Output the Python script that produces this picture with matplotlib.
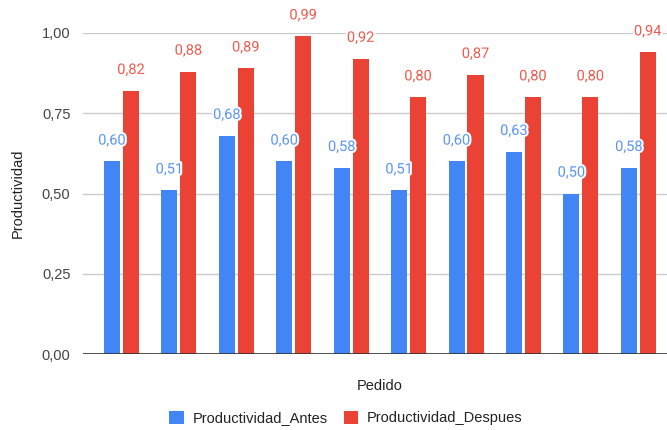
import numpy as np
import matplotlib
matplotlib.use("Agg")
import matplotlib.pyplot as plt
import matplotlib.patheffects as pe

plt.rcParams["font.family"] = ["Roboto", "DejaVu Sans"]

pedidos = list(range(1, 11))
antes = [0.60, 0.51, 0.68, 0.60, 0.58, 0.51, 0.60, 0.63, 0.50, 0.58]
despues = [0.82, 0.88, 0.89, 0.99, 0.92, 0.80, 0.87, 0.80, 0.80, 0.94]
yticks = [0.0, 0.25, 0.5, 0.75, 1.0]

BLUE = "#4285F4"
RED = "#EA4335"
AXFONT = ["Liberation Sans", "DejaVu Sans"]

fig = plt.figure(figsize=(6.67, 4.30), dpi=100)
ax = fig.add_axes([83 / 667, 76 / 430, 1 - 83 / 667, 321 / 430])

x = np.arange(len(pedidos))
w = 0.28
off = 0.165
b1 = ax.bar(x - off, antes, w, color=BLUE, label="Productividad_Antes", zorder=3)
b2 = ax.bar(x + off, despues, w, color=RED, label="Productividad_Despues", zorder=3)

# data labels with a white halo, like the sheets export
stroke = [pe.withStroke(linewidth=3, foreground="white")]
for bars, vals, col in [(b1, antes, "#5b95f5"), (b2, despues, "#ee5a4c")]:
    for rect, v in zip(bars, vals):
        ax.annotate(f"{v:.2f}".replace(".", ","),
                    (rect.get_x() + rect.get_width() / 2, v),
                    xytext=(0, 15), textcoords="offset points",
                    ha="center", va="center", fontsize=10.5, color=col,
                    path_effects=stroke, zorder=5, annotation_clip=False)

ax.set_xlim(-0.67, 9.5)
ax.set_ylim(0, 1.0)
ax.set_yticks(yticks)
ax.set_yticklabels([f"{t:.2f}".replace(".", ",") for t in yticks],
                   fontsize=10.5, color="#444444", family=AXFONT)
ax.set_xticks([])
ax.tick_params(axis="y", length=0, pad=9)
ax.grid(axis="y", color="#cccccc", lw=1, zorder=0)
ax.axhline(0, color="#333333", lw=1.2, zorder=4)
for s in ax.spines.values():
    s.set_visible(False)
ax.set_axisbelow(True)

fig.text(380 / 667, 1 - 386 / 430, "Pedido", ha="center", va="center",
         fontsize=10.5, color="#222222", family=AXFONT)
fig.text(18 / 667, 1 - 193 / 430, "Productividad", ha="center", va="center",
         rotation=90, fontsize=10.5, color="#222222", family=AXFONT)

fig.legend(loc="center", bbox_to_anchor=(346 / 667, 1 - 418 / 430),
           ncol=2, frameon=False, prop={"family": AXFONT, "size": 10.5},
           handlelength=1.0, handleheight=1.0, handletextpad=0.6,
           columnspacing=1.1, labelcolor="#222222")

fig.savefig("out.png", dpi=100)
